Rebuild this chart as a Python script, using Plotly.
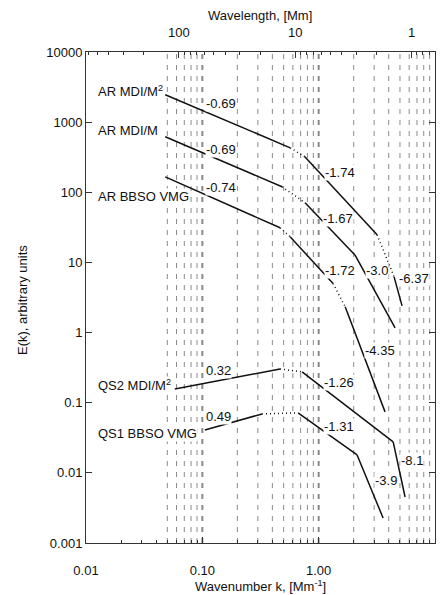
import math
import plotly.graph_objects as go

# ---- data ----
ar_mdi_m2_k = [0.048, 0.57, 0.76, 3.18, 4.45, 5.21]
ar_mdi_m2_E = [2460, 430, 321, 24.8, 6.23, 2.40]
ar_mdi_m2_style = ["solid", "dot", "solid", "dot", "solid"]

ar_mdi_m_k = [0.048, 0.484, 0.764, 2.05, 4.54]
ar_mdi_m_E = [619, 120, 70.8, 12.8, 1.17]
ar_mdi_m_style = ["solid", "dot", "solid", "solid"]

ar_bbso_k = [0.048, 0.466, 0.568, 1.33, 1.69, 3.72]
ar_bbso_E = [166, 31.2, 23.2, 5.0, 2.33, 0.074]
ar_bbso_style = ["solid", "dot", "solid", "dot", "solid"]

qs2_mdi_k = [0.058, 0.466, 0.72, 4.37, 5.53]
qs2_mdi_E = [0.157, 0.303, 0.275, 0.0276, 0.00453]
qs2_mdi_style = ["solid", "dot", "solid", "solid"]

qs1_bbso_k = [0.105, 0.326, 0.665, 2.14, 3.58]
qs1_bbso_E = [0.0409, 0.0692, 0.0716, 0.018, 0.00227]
qs1_bbso_style = ["solid", "dot", "solid", "solid"]

series = [
    (ar_mdi_m2_k, ar_mdi_m2_E, ar_mdi_m2_style),
    (ar_mdi_m_k, ar_mdi_m_E, ar_mdi_m_style),
    (ar_bbso_k, ar_bbso_E, ar_bbso_style),
    (qs2_mdi_k, qs2_mdi_E, qs2_mdi_style),
    (qs1_bbso_k, qs1_bbso_E, qs1_bbso_style),
]

grid_k = [0.05, 0.06, 0.07, 0.08, 0.09, 0.1,
          0.2, 0.3, 0.4, 0.5, 0.6, 0.7, 0.8, 0.9, 1.0,
          2, 3, 4, 5, 6, 7, 8, 9]
heavy_grid_k = [0.1, 1.0]

x_tickvals = [0.01, 0.1, 1, 10]
x_ticktext = ["0.01", "0.10", "1.00", "10.00"]
y_tickvals = [0.001, 0.01, 0.1, 1, 10, 100, 1000, 10000]
y_ticktext = ["0.001", "0.01", "0.1", "1", "10", "100", "1000", "10000"]

wl_major = [100, 10, 1]
wl_minor = [600, 500, 400, 300, 200, 90, 80, 70, 60, 50, 40, 30, 20,
            9, 8, 7, 6, 5, 4, 3, 2, 0.9, 0.8, 0.7]

labels = [
    ("AR MDI/M<sup>2</sup>", 97, 91),
    ("AR MDI/M", 97, 130),
    ("AR BBSO VMG", 97, 196),
    ("QS2 MDI/M<sup>2</sup>", 97, 385),
    ("QS1 BBSO VMG", 97, 433),
    ("-0.69", 205, 103), ("-0.69", 205, 150), ("-0.74", 205, 188),
    ("-1.74", 324, 172), ("-1.67", 322, 219), ("-1.72", 324, 270),
    ("-3.0", 365, 270), ("-6.37", 398, 278), ("-4.35", 364, 350),
    ("0.32", 205, 370), ("0.49", 205, 416),
    ("-1.26", 323, 382), ("-1.31", 323, 426),
    ("-8.1", 400, 460), ("-3.9", 374, 480),
]

# ---- figure ----
W, H = 446, 595
ML, MR, MT, MB = 86, 11, 52, 52
PW, PH = W - ML - MR, H - MT - MB
FONT = "Liberation Sans, Arial, sans-serif"
INK = "#111111"
FS = 13

fig = go.Figure()

for ks, Es, styles in series:
    for i, st in enumerate(styles):
        fig.add_trace(go.Scatter(
            x=[ks[i], ks[i + 1]], y=[Es[i], Es[i + 1]], mode="lines",
            line=dict(color=INK, width=1.5, dash="solid" if st == "solid" else "1px,3px"),
            showlegend=False, hoverinfo="skip"))

# invisible trace to activate top axis
fig.add_trace(go.Scatter(x=[0.01, 10], y=[1, 1], xaxis="x2", mode="markers",
                         marker=dict(opacity=0), showlegend=False, hoverinfo="skip"))

shapes = []
for g in grid_k:
    shapes.append(dict(type="line", xref="x", yref="paper", x0=g, x1=g, y0=0, y1=1,
                       line=dict(color="#8a8a8a", width=2 if g in heavy_grid_k else 1,
                                 dash="5px,6px"),
                       layer="below"))
fig.update_layout(shapes=shapes)

def px_to_paper(xp, yp):
    return (xp - ML) / PW, (H - MB - yp) / PH

anns = []
for text, xl, yc in labels:
    xx, yy = px_to_paper(xl, yc)
    anns.append(dict(text=text, x=xx, y=yy,
                     xref="paper", yref="paper", xanchor="left", yanchor="middle",
                     showarrow=False, bgcolor="white", borderpad=0,
                     font=dict(family=FONT, size=FS, color=INK)))

# axis titles and top tick labels as positioned text
titles = [
    ("Wavelength, [Mm]", 260, 15, 0),
    ("Wavenumber k, [Mm<sup>-1</sup>]", 260, 586, 0),
    ("E(k), arbitrary units", 22, 300, -90),
]
for text, xc, yc, ang in titles:
    xx, yy = px_to_paper(xc, yc)
    anns.append(dict(text=text, x=xx, y=yy, xref="paper", yref="paper",
                     xanchor="center", yanchor="middle", showarrow=False,
                     textangle=ang, font=dict(family=FONT, size=FS, color=INK)))
for w in wl_major:
    anns.append(dict(text=str(w), x=math.log10(2 * math.pi / w), y=(H - MB - 32) / PH,
                     xref="x", yref="paper", xanchor="center", yanchor="middle",
                     showarrow=False, font=dict(family=FONT, size=FS, color=INK)))
fig.update_layout(annotations=anns)

axis_common = dict(showgrid=False, zeroline=False, showline=True, linecolor="#333",
                   linewidth=1, ticks="inside", tickcolor="#333", automargin=False,
                   tickfont=dict(family=FONT, size=FS, color=INK))

fig.update_layout(
    width=W, height=H,
    margin=dict(l=ML, r=MR, t=MT, b=MB, autoexpand=False),
    paper_bgcolor="white", plot_bgcolor="white",
    font=dict(family=FONT, size=FS, color=INK),
    xaxis=dict(type="log", range=[-2, 1], tickmode="array", tickvals=x_tickvals,
               ticktext=x_ticktext, ticklen=6,
               minor=dict(ticks="inside", ticklen=3, tickcolor="#333",
                          tickmode="array",
                          tickvals=[m * 10 ** e for e in (-2, -1, 0) for m in range(2, 10)]),
               ticklabelstandoff=15,
               **axis_common),
    xaxis2=dict(type="log", range=[-2, 1], overlaying="x", side="top",
                tickmode="array", tickvals=[2 * math.pi / w for w in wl_major],
                showticklabels=False, ticklen=6,
                minor=dict(ticks="inside", ticklen=3, tickcolor="#333", tickmode="array",
                           tickvals=[2 * math.pi / w for w in wl_minor]),
                **axis_common),
    yaxis=dict(type="log", range=[-3, 4], tickmode="array", tickvals=y_tickvals,
               ticktext=y_ticktext, ticklen=6, mirror="ticks",
               **axis_common),
)

fig.write_html("out.html")
